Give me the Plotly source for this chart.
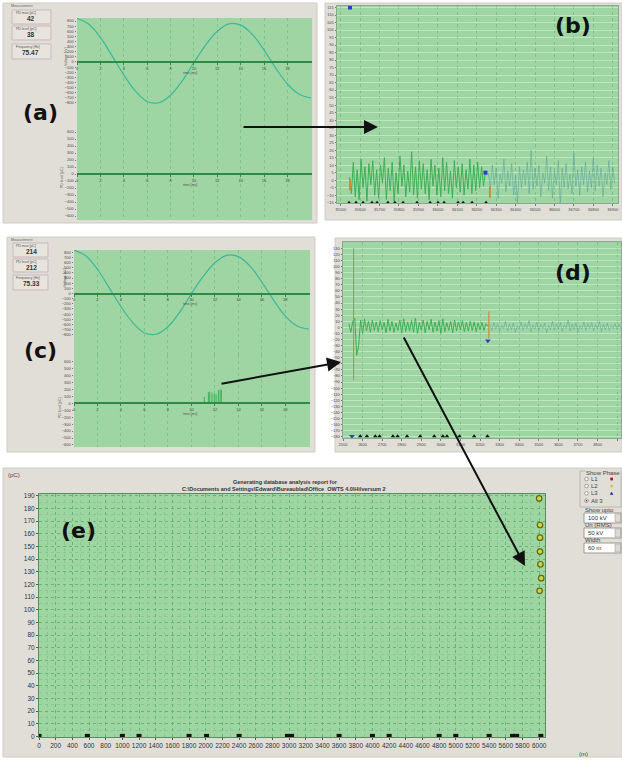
import plotly.graph_objects as go

W, H = 622, 760


def fx(px):
    return px / W


def fy(py):
    return 1 - py / H


def xdom(left, right):
    return [fx(left), fx(right)]


def ydom(top, bottom):
    return [fy(bottom), fy(top)]


# ---------------- data ----------------
# (a) / (c): one 20 ms window of the test voltage and the PD pulses in it
time_ms = list(range(21))
voltage_a_kv = [850, 740, 480, 120, -250, -570, -770, -795, -650, -370, -10,
                330, 600, 745, 720, 540, 230, -120, -430, -630, -700]
voltage_c_kv = [843, 730, 470, 110, -255, -565, -765, -790, -645, -365, -5,
                330, 595, 740, 715, 530, 220, -130, -440, -630, -690]
pd_c_time_ms = [11.1, 11.45, 11.55, 11.75, 11.95, 12.1, 12.3, 12.45, 12.55]
pd_c_pc = [90, 160, 170, 150, 140, 130, 190, 200, 195]
time_ticks = list(range(0, 20, 2))
voltage_ticks = list(range(-800, 801, 100))
pd_ticks = list(range(-600, 601, 100))
info_a = [("PD max [pC]", "42"), ("PD level [pC]", "38"), ("Frequency [Hz]", "75.47")]
info_c = [("PD max [pC]", "214"), ("PD level [pC]", "212"), ("Frequency [Hz]", "75.33")]

# (b): reflectogram of the first measurement
b_x_ticks = list(range(35500, 36901, 100))
b_y_ticks = list(range(-15, 116, 5))
b_step = 10
b_dark_start = 35545
b_dark = [2, -9, 12, -11, 7, -13, 14, -5, 9, -14,
          11, -3, 13, -10, 7, -12, 10, -2, 15, -13,
          8, -7, 12, -14, 5, -9, 16, -4, 10, -11,
          6, -8, 19, -10, 9, -12, 13, -6, 11, -9,
          7, -13, 14, -4, 10, -10, 8, -11, 15, -7,
          12, -9, 6, -12, 13, -5, 9, -8, 11, -10,
          7, -6, 14, -9, 10, -7, 12, -5, 9, -4, 6]
b_faint_start = 36260
b_faint = [5, -6, 10, -3, 8, -12, 4, -2, 14, -8,
           6, -4, 11, -10, 3, -15, 9, -5, 7, -3,
           12, -9, 20, -6, 8, -4, 10, -11, 5, -2,
           16, -7, 9, -12, 6, -3, 13, -17, 8, -5,
           11, -6, 4, -9, 18, -4, 7, -10, 9, -3,
           12, -8, 6, -5, 15, -7, 10, -4, 8, -11,
           5, -3, 13, -6, 9, -2]
b_floor = -15
b_markers = [35543, 35579, 35615, 35661, 35687, 35743, 35779, 35821, 35893,
             35960, 36001, 36032, 36104, 36130, 36176, 36248]
b_blue_x = [35548, 36245]
b_blue_y = [115, 5]
b_orange_x = [35548, 36268]
b_orange_y = [-3, -8]

# (d): reflectogram of the second measurement
d_x_ticks = list(range(2500, 3901, 100))
d_y_ticks = list(range(-180, 131, 10))
d_step = 10
d_dark_start = 2530
d_dark = [6, -8, 10, 15, -46, -30, 12, -10, 14, -6,
          10, -8, 12, -5, 9, -7, 11, -4, 8, -9,
          13, -6, 10, -8, 7, -5, 12, -9, 14, -7,
          9, -6, 11, -8, 15, -10, 8, -5, 12, -9,
          10, -4, 13, -8, 9, -6, 11, -10, 14, -7,
          8, -5, 10, -9, 12, -6, 9, -4, 11, -7,
          8, -6, 10, -5, 9, -7, 7, -4, 8, -5, 6, 2]
d_faint_start = 3250
d_faint = [4, -5, 8, -3, 6, -7, 3, -2, 10, -6,
           5, -4, 7, -8, 2, -3, 9, -5, 6, -2,
           11, -7, 4, -3, 8, -6, 5, -2, 7, -9,
           3, -4, 10, -5, 6, -3, 8, -7, 4, -2,
           12, -6, 5, -4, 7, -8, 3, -3, 9, -5,
           6, -2, 8, -6, 4, -3, 10, -7, 5, -4,
           7, -5, 3, -2, 6, -4, 5, -3]
d_pulse_x = [2554, 3245]
d_pulse_top = [130, 26]
d_pulse_bottom = [-87, -18]
d_floor = -179
d_markers = [2588, 2622, 2665, 2687, 2755, 2779, 2827, 2894, 2966, 3010,
             3031, 3095, 3170, 3238]
d_blue_x = [2546, 3240]
d_blue_y = [-179, -22]

# (e): PD mapping along the cable
e_x_ticks = list(range(0, 6001, 200))
e_y_ticks = list(range(0, 191, 10))
e_joint_m = [0, 580, 1000, 1200, 1800, 2010, 2400, 2980, 3030, 3600, 4000,
             4200, 4800, 5000, 5400, 5680, 5730, 6020]
e_joint_pc = [0] * len(e_joint_m)
e_l2_m = [6000, 6010, 6010, 6010, 6015, 6025, 6005]
e_l2_pc = [188, 167, 157, 146, 136, 125, 115]

# ---------------- styling ----------------
GREY = "#e0ded6"
GREEN = "#9fd5a3"
LINE_GREEN = "#2f8a45"
SIG_GREEN = "#3cb054"
FAINT = "rgba(80,160,150,0.5)"
ORANGE = "#cf8a3c"
BLUE = "#2a40c0"
tiny = dict(family="Liberation Sans", size=4, color="#4a4a4a")

fig = go.Figure()


def series_x(start, step, values):
    return [start + i * step for i in range(len(values))]


def stems(xs, lows, highs):
    px, py = [], []
    for x, lo, hi in zip(xs, lows, highs):
        px += [x, x, None]
        py += [lo, hi, None]
    return px, py


# (a)
fig.add_trace(go.Scatter(x=time_ms, y=voltage_a_kv, mode="lines", line=dict(color="#3cb89a", width=1.2, shape="spline"),
                         xaxis="x", yaxis="y", hoverinfo="skip"))
fig.add_trace(go.Scatter(x=[None], y=[None], mode="lines", xaxis="x2", yaxis="y2", hoverinfo="skip"))
# (c)
fig.add_trace(go.Scatter(x=time_ms, y=voltage_c_kv, mode="lines", line=dict(color="#3cb89a", width=1.2, shape="spline"),
                         xaxis="x3", yaxis="y3", hoverinfo="skip"))
sx, sy = stems(pd_c_time_ms, [0] * len(pd_c_pc), pd_c_pc)
fig.add_trace(go.Scatter(x=sx, y=sy, mode="lines", line=dict(color="#46b862", width=1.2),
                         xaxis="x4", yaxis="y4", hoverinfo="skip"))
# (b)
fig.add_trace(go.Scatter(x=series_x(b_faint_start, b_step, b_faint), y=b_faint, mode="lines",
                         line=dict(color=FAINT, width=1), xaxis="x5", yaxis="y5", hoverinfo="skip"))
fig.add_trace(go.Scatter(x=series_x(b_dark_start, b_step, b_dark), y=b_dark, mode="lines",
                         line=dict(color=SIG_GREEN, width=1), xaxis="x5", yaxis="y5", hoverinfo="skip"))
fig.add_trace(go.Scatter(x=b_markers, y=[b_floor] * len(b_markers), mode="markers",
                         marker=dict(symbol="triangle-up", size=4, color="#111"), xaxis="x5", yaxis="y5", hoverinfo="skip"))
fig.add_trace(go.Scatter(x=b_blue_x, y=b_blue_y, mode="markers",
                         marker=dict(symbol="square", size=4, color=BLUE), xaxis="x5", yaxis="y5", hoverinfo="skip"))
fig.add_trace(go.Scatter(x=b_orange_x, y=b_orange_y, mode="markers",
                         marker=dict(symbol="line-ns", size=8, line=dict(color=ORANGE, width=2)), xaxis="x5", yaxis="y5", hoverinfo="skip"))
# (d)
fig.add_trace(go.Scatter(x=series_x(d_faint_start, d_step, d_faint), y=d_faint, mode="lines",
                         line=dict(color=FAINT, width=1), xaxis="x6", yaxis="y6", hoverinfo="skip"))
fig.add_trace(go.Scatter(x=series_x(d_dark_start, d_step, d_dark), y=d_dark, mode="lines",
                         line=dict(color=SIG_GREEN, width=1), xaxis="x6", yaxis="y6", hoverinfo="skip"))
px_, py_ = stems(d_pulse_x, d_pulse_bottom, d_pulse_top)
fig.add_trace(go.Scatter(x=px_, y=py_, mode="lines", line=dict(color=ORANGE, width=1.2),
                         xaxis="x6", yaxis="y6", hoverinfo="skip"))
fig.add_trace(go.Scatter(x=d_markers, y=[d_floor] * len(d_markers), mode="markers",
                         marker=dict(symbol="triangle-up", size=4, color="#111"), xaxis="x6", yaxis="y6", hoverinfo="skip"))
fig.add_trace(go.Scatter(x=d_blue_x, y=d_blue_y, mode="markers",
                         marker=dict(symbol="triangle-down", size=5, color=BLUE), xaxis="x6", yaxis="y6", hoverinfo="skip"))
# (e)
fig.add_trace(go.Scatter(x=e_joint_m, y=e_joint_pc, mode="markers",
                         marker=dict(symbol="square", size=5, color="#111"), xaxis="x7", yaxis="y7", hoverinfo="skip"))
fig.add_trace(go.Scatter(x=e_l2_m, y=e_l2_pc, mode="markers",
                         marker=dict(symbol="circle", size=5.5, color="#cfd640", line=dict(color="#5e6a18", width=1.2)),
                         xaxis="x7", yaxis="y7", hoverinfo="skip"))


# ---------------- axes ----------------
def time_axis(left, right, zero_py):
    return dict(domain=xdom(left, right), range=[0, 20.1], anchor="free", position=fy(zero_py),
                tickvals=time_ticks, ticks="outside", ticklen=2, tickcolor=LINE_GREEN, tickangle=0,
                tickfont=tiny, showline=True, linecolor=LINE_GREEN, linewidth=2,
                showgrid=True, gridcolor="rgba(60,150,85,0.3)", griddash="dot", gridwidth=1,
                zeroline=False, fixedrange=True)


def level_axis(top, bottom, rng, ticks, anchor):
    return dict(domain=ydom(top, bottom), range=rng, anchor=anchor, tickvals=ticks,
                ticks="outside", ticklen=1.5, tickcolor="#777", tickfont=tiny,
                showgrid=False, zeroline=False, showline=False, fixedrange=True)


layout_axes = dict(
    xaxis=time_axis(77, 312, 62),
    yaxis=level_axis(18, 118, [-1093, 858.5], voltage_ticks, "x"),
    xaxis2=time_axis(77, 312, 174),
    yaxis2=level_axis(118, 220, [-657, 800], pd_ticks, "x2"),
    xaxis3=time_axis(74, 310, 293.5),
    yaxis3=level_axis(250, 355, [-1192, 843], voltage_ticks, "x3"),
    xaxis4=time_axis(74, 310, 403.3),
    yaxis4=level_axis(355, 447, [-629, 695], pd_ticks, "x4"),
    xaxis5=dict(domain=xdom(337, 618), range=[35481, 36927], anchor="y5", tickvals=b_x_ticks,
                tickformat="d", ticks="outside", ticklen=2, tickcolor="#777", tickangle=0, tickfont=tiny,
                showgrid=True, gridcolor="rgba(60,150,85,0.35)", griddash="dot", zeroline=False,
                showline=True, mirror=True, linecolor="#8aa88e", linewidth=1),
    yaxis5=dict(domain=ydom(6, 203), range=[-15.2, 116], anchor="x5", tickvals=b_y_ticks,
                ticks="outside", ticklen=1.5, tickcolor="#777", tickfont=tiny,
                showgrid=True, gridcolor="rgba(235,255,240,0.4)", gridwidth=1, zeroline=False,
                showline=True, mirror=True, linecolor="#8aa88e", linewidth=1),
    xaxis6=dict(domain=xdom(343, 621), range=[2500, 3920], anchor="y6", tickvals=d_x_ticks,
                tickformat="d", ticks="outside", ticklen=2, tickcolor="#777", tickangle=0, tickfont=tiny,
                showgrid=True, gridcolor="rgba(60,150,85,0.35)", griddash="dot", zeroline=False,
                showline=True, mirror=True, linecolor="#8aa88e", linewidth=1),
    yaxis6=dict(domain=ydom(242, 438), range=[-182, 140.4], anchor="x6", tickvals=d_y_ticks,
                ticks="outside", ticklen=1.5, tickcolor="#777", tickfont=tiny,
                showgrid=True, gridcolor="rgba(235,255,240,0.4)", gridwidth=1, zeroline=False,
                showline=True, mirror=True, linecolor="#8aa88e", linewidth=1),
    xaxis7=dict(domain=xdom(39, 545), range=[0, 6070], anchor="y7", tickvals=e_x_ticks,
                tickformat="d", ticks="outside", ticklen=2, tickcolor="#555", tickangle=0,
                tickfont=dict(family="Liberation Sans", size=6.5, color="#333"),
                showgrid=True, gridcolor="#62b872", griddash="dot", gridwidth=1, zeroline=False,
                minor=dict(dtick=100, tick0=0, showgrid=True, gridcolor="#86c991", griddash="dot", gridwidth=1),
                showline=True, mirror=True, linecolor="#5e8a64", linewidth=1),
    yaxis7=dict(domain=ydom(494, 737), range=[-0.5, 191.5], anchor="x7", tickvals=e_y_ticks,
                ticks="outside", ticklen=2, tickcolor="#555",
                tickfont=dict(family="Liberation Sans", size=6.5, color="#333"),
                showgrid=True, gridcolor="#62b872", griddash="dot", gridwidth=1, zeroline=False,
                minor=dict(dtick=5, tick0=0, showgrid=True, gridcolor="#86c991", griddash="dot", gridwidth=1),
                showline=True, mirror=True, linecolor="#5e8a64", linewidth=1),
)

# ---------------- shapes ----------------
shapes = []


def rect(x0, y0, x1, y1, fill, line_color=None, lw=0, layer="below"):
    shapes.append(dict(type="rect", xref="paper", yref="paper", x0=fx(x0), x1=fx(x1),
                       y0=fy(y1), y1=fy(y0), fillcolor=fill, layer=layer,
                       line=dict(color=line_color or fill, width=lw)))


def circle(cx, cy, r, fill, line_color, lw=0.8):
    shapes.append(dict(type="circle", xref="paper", yref="paper", x0=fx(cx - r), x1=fx(cx + r),
                       y0=fy(cy + r), y1=fy(cy - r), fillcolor=fill,
                       line=dict(color=line_color, width=lw)))


# window panels
rect(3, 3, 317, 223, GREY, "#cfccc4", 1)
rect(325, 3, 622, 220, GREY, "#cfccc4", 1)
rect(7, 237, 315, 452, GREY, "#cfccc4", 1)
rect(335, 238, 622, 452, GREY, "#cfccc4", 1)
rect(3, 468, 622, 757, GREY, "#cfccc4", 1)
# plot areas
rect(77, 18, 312, 220, GREEN)
rect(337, 6, 618, 203, GREEN)
rect(74, 250, 310, 447, GREEN)
rect(343, 242, 621, 438, GREEN)
rect(39, 494, 545, 737, GREEN)

# measurement boxes
for top, bottom in [(10, 24), (26, 40), (44, 59)]:
    rect(12, top, 51, bottom, "#e6e4dd", "#c9b7c0", 1)
for top, bottom in [(243, 257), (259, 272), (275, 290)]:
    rect(13, top, 48, bottom, "#e6e4dd", "#c9b7c0", 1)

# control box of (e)
rect(580, 471, 621, 507, "rgba(0,0,0,0)", "#b9b6ae", 1)
for top in [513, 528, 543]:
    rect(584, top, 621, top + 10, "#ffffff", "#9a9890", 1)
    rect(615, top + 1, 620.5, top + 9, "#dcdad2", "#a5a39b", 0.6)
for cy in [479, 486, 493.3, 500.7]:
    circle(586.5, cy, 1.8, "#ffffff", "#8a8880")
circle(586.5, 500.7, 0.8, "#333333", "#333333", 0)
rect(610.3, 477.6, 613, 480.4, "#b01030")
circle(611.6, 486, 1.3, "#bcc636", "#bcc636", 0)
shapes.append(dict(type="path", xref="paper", yref="paper", fillcolor="#2a2a8a",
                   line=dict(color="#2a2a8a", width=0.5),
                   path="M {a},{b} L {c},{b} L {d},{e} Z".format(a=fx(610.2), b=fy(494.6), c=fx(613), d=fx(611.6), e=fy(492))))

# ---------------- text ----------------
ann = []


def text(px, py, s, size=6, color="#333", xanchor="center", yanchor="middle", bold=False,
         family="Liberation Sans", angle=0, bg=None):
    d = dict(x=fx(px), y=fy(py), xref="paper", yref="paper", text=s, showarrow=False,
             xanchor=xanchor, yanchor=yanchor, textangle=angle, borderpad=0,
             font=dict(family=family, size=size, color=color, weight="bold" if bold else "normal"))
    if bg:
        d["bgcolor"] = bg
    ann.append(d)


# panel letters
for (lx, ly, s) in [(40, 113, "(a)"), (573, 25, "(b)"), (40, 350, "(c)"), (573, 273, "(d)"), (78, 530, "(e)")]:
    text(lx, ly, s, size=22, color="#111", bold=True, family="DejaVu Sans")

# measurement values
text(10, 6, "Measurement", size=3.5, color="#666", xanchor="left")
for (label, value), top in zip(info_a, [10, 26, 44]):
    text(15, top + 2.8, label, size=3.5, color="#555", xanchor="left")
    text(30.5, top + 8.8, value, size=6.5, color="#333", bold=True)
text(10, 239.5, "Measurement", size=3.5, color="#666", xanchor="left")
for (label, value), top in zip(info_c, [243, 259, 275]):
    text(15, top + 2.8, label, size=3.5, color="#555", xanchor="left")
    text(31, top + 8.5, value, size=6.5, color="#333", bold=True)

# axis titles of (a) and (c)
text(66, 57, "Voltage [kV]", size=3.5, color="#555", angle=-90)
text(62, 178, "PD level [pC]", size=3.5, color="#555", angle=-90)
text(190, 72.5, "time [ms]", size=3.5, color="#555")
text(190, 184.5, "time [ms]", size=3.5, color="#555")
text(65, 278, "Voltage [kV]", size=3.5, color="#555", angle=-90)
text(60, 408, "PD level [pC]", size=3.5, color="#555", angle=-90)
text(190, 304, "time [ms]", size=3.5, color="#555")
text(190, 414, "time [ms]", size=3.5, color="#555")

# (e) titles and units
text(285, 481.5, "Generating database analysis report for", size=5.5, color="#333", bold=True)
text(284, 488.5, r"C:\Documents and Settings\Edward\Bureaublad\Office  OWTS 4.0\Hilversum 2",
     size=5.5, color="#333", bold=True)
text(7, 475, "(pC)", size=6, color="#444", xanchor="left")
text(578, 754, "(m)", size=6, color="#444", xanchor="left")

# control panel
text(585, 472.5, "Show Phase", size=6, color="#444", xanchor="left", bg=GREY)
for cy, s in zip([479, 486, 493.3, 500.7], ["L1", "L2", "L3", "All 3"]):
    text(590, cy, s, size=6, color="#444", xanchor="left")
text(584, 509.5, "Show upto", size=6, color="#444", xanchor="left")
text(586.5, 518, "100 kV", size=6, color="#333", xanchor="left")
text(584, 524.5, "Un (RMS)", size=6, color="#444", xanchor="left")
text(586.5, 533, "50 kV", size=6, color="#333", xanchor="left")
text(584, 540, "Width", size=6, color="#444", xanchor="left")
text(586.5, 548, "60 m", size=6, color="#333", xanchor="left")

# arrows linking the panels
for tip, tail in [((378, 127), (242, 127)), ((341, 362), (220, 384)), ((525, 566), (403, 336))]:
    ann.append(dict(x=fx(tip[0]), y=fy(tip[1]), xref="paper", yref="paper", text="",
                    showarrow=True, arrowhead=2, arrowsize=1.4, arrowwidth=2, arrowcolor="#111",
                    ax=tail[0] - tip[0], ay=tail[1] - tip[1], standoff=0))

fig.update_layout(
    width=W, height=H, margin=dict(l=0, r=0, t=0, b=0, autoexpand=False),
    paper_bgcolor="#ffffff", plot_bgcolor="rgba(0,0,0,0)", showlegend=False,
    shapes=shapes, annotations=ann, **layout_axes,
)

fig.write_html("out.html")
